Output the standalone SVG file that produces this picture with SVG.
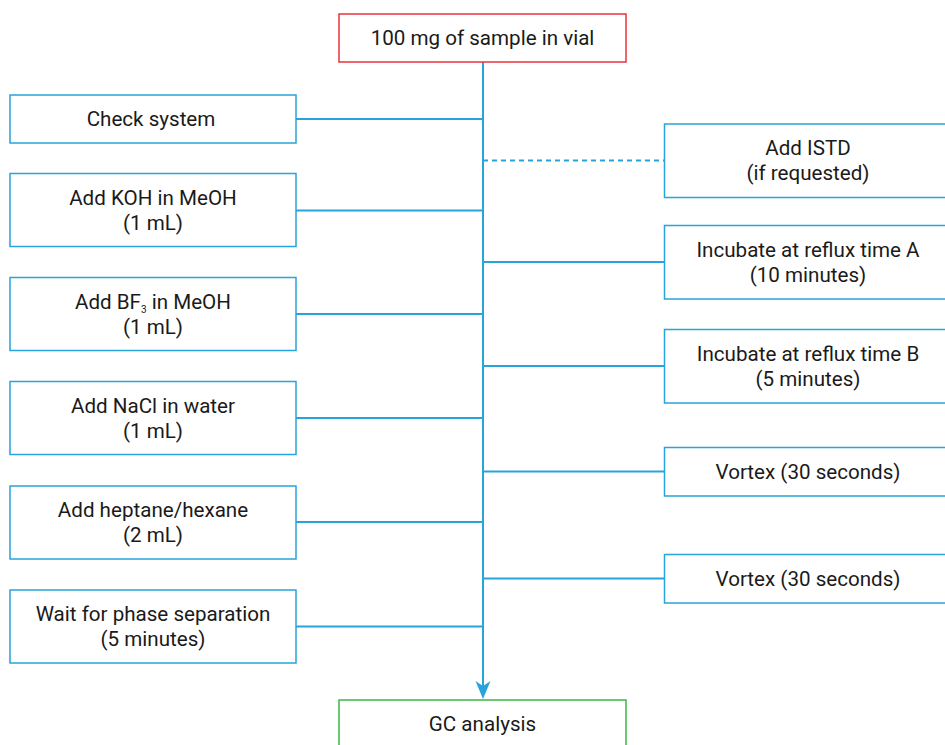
<svg xmlns="http://www.w3.org/2000/svg" width="945" height="745" viewBox="0 0 945 745">
<style>
.box{fill:#fff;stroke:#29a3dc;stroke-width:1.5}
.t{font-family:Roboto,"Liberation Sans",sans-serif;font-size:20.6px;fill:#1a1a1a;text-anchor:middle}
.c{stroke:#29a3dc;stroke-width:2;fill:none}
</style>
<rect width="945" height="745" fill="#fff"/>
<g id="connectors">
<line class="c" x1="483" y1="62" x2="483" y2="690"/>
<path d="M475.5,681 L483,699 L490.5,681 L483,686 Z" fill="#29a3dc"/>
<line class="c" x1="296" y1="119" x2="483" y2="119"/>
<line class="c" x1="296" y1="210.5" x2="483" y2="210.5"/>
<line class="c" x1="296" y1="314" x2="483" y2="314"/>
<line class="c" x1="296" y1="418" x2="483" y2="418"/>
<line class="c" x1="296" y1="522" x2="483" y2="522"/>
<line class="c" x1="296" y1="626.5" x2="483" y2="626.5"/>
<line class="c" x1="483" y1="160.5" x2="664" y2="160.5" stroke-dasharray="5,4"/>
<line class="c" x1="483" y1="262" x2="664" y2="262"/>
<line class="c" x1="483" y1="366" x2="664" y2="366"/>
<line class="c" x1="483" y1="471.5" x2="664" y2="471.5"/>
<line class="c" x1="483" y1="578.5" x2="664" y2="578.5"/>
</g>
<g id="start">
<rect x="339" y="14" width="287" height="48" fill="#fff" stroke="#e8333a" stroke-width="1.5"/>
<text class="t" x="482.5" y="45">100 mg of sample in vial</text>
</g>
<g id="check">
<rect class="box" x="10" y="95" width="286" height="48"/>
<text class="t" x="151" y="126">Check system</text>
</g>
<g id="koh">
<rect class="box" x="10" y="173.5" width="286" height="73"/>
<text class="t" x="153" y="205">Add KOH in MeOH</text>
<text class="t" x="153" y="230">(1 mL)</text>
</g>
<g id="bf3">
<rect class="box" x="10" y="277.5" width="286" height="73"/>
<text class="t" x="153" y="309">Add BF<tspan font-size="10" dy="4">3</tspan><tspan dy="-4"> in MeOH</tspan></text>
<text class="t" x="153" y="334">(1 mL)</text>
</g>
<g id="nacl">
<rect class="box" x="10" y="381.5" width="286" height="73"/>
<text class="t" x="153" y="413">Add NaCl in water</text>
<text class="t" x="153" y="438">(1 mL)</text>
</g>
<g id="heptane">
<rect class="box" x="10" y="486" width="286" height="73"/>
<text class="t" x="153" y="517">Add heptane/hexane</text>
<text class="t" x="153" y="542">(2 mL)</text>
</g>
<g id="wait">
<rect class="box" x="10" y="590" width="286" height="73"/>
<text class="t" x="153" y="621">Wait for phase separation</text>
<text class="t" x="153" y="646">(5 minutes)</text>
</g>
<g id="istd">
<rect class="box" x="664.5" y="124" width="287" height="73.5"/>
<text class="t" x="808" y="155">Add ISTD</text>
<text class="t" x="808" y="180">(if requested)</text>
</g>
<g id="incA">
<rect class="box" x="664.5" y="225.5" width="287" height="73.5"/>
<text class="t" x="808" y="257">Incubate at reflux time A</text>
<text class="t" x="808" y="282">(10 minutes)</text>
</g>
<g id="incB">
<rect class="box" x="664.5" y="329.5" width="287" height="73.5"/>
<text class="t" x="808" y="361">Incubate at reflux time B</text>
<text class="t" x="808" y="386">(5 minutes)</text>
</g>
<g id="vortex1">
<rect class="box" x="664.5" y="447.5" width="287" height="48.5"/>
<text class="t" x="808" y="478.5">Vortex (30 seconds)</text>
</g>
<g id="vortex2">
<rect class="box" x="664.5" y="554.5" width="287" height="48.5"/>
<text class="t" x="808" y="585.5">Vortex (30 seconds)</text>
</g>
<g id="gc">
<rect x="339" y="700" width="287" height="60" fill="#fff" stroke="#3cb54a" stroke-width="1.5"/>
<text class="t" x="482.5" y="731">GC analysis</text>
</g>
</svg>
